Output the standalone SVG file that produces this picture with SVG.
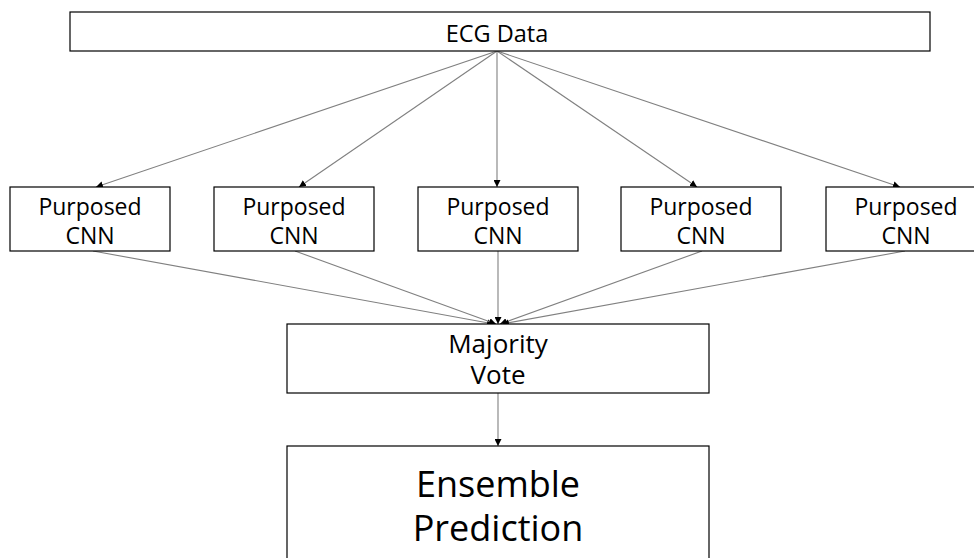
<svg xmlns="http://www.w3.org/2000/svg" width="974" height="558" viewBox="0 0 974 558">
<style>
.box{fill:#fff;stroke:#000;stroke-width:1.2}
.t{font-family:"Open Sans","Noto Sans",sans-serif;fill:#000;text-anchor:middle}
.c{stroke:#808080;stroke-width:1.1;fill:none;marker-end:url(#ah)}
</style>
<defs>
<marker id="ah" viewBox="0 0 10 10" refX="10" refY="5" markerWidth="7" markerHeight="7" markerUnits="userSpaceOnUse" orient="auto">
<path d="M0,0 L10,5 L0,10 z" fill="#000"/>
</marker>
</defs>
<rect width="974" height="558" fill="#fff"/>
<g id="connectors">
<line class="c" x1="497" y1="51" x2="96" y2="187"/>
<line class="c" x1="497" y1="51" x2="299" y2="187"/>
<line class="c" x1="497" y1="51" x2="497" y2="187"/>
<line class="c" x1="497" y1="51" x2="697" y2="187"/>
<line class="c" x1="497" y1="51" x2="900" y2="187"/>
<line class="c" x1="93" y1="251" x2="494" y2="324"/>
<line class="c" x1="295" y1="251" x2="496" y2="324"/>
<line class="c" x1="498" y1="251" x2="498" y2="324"/>
<line class="c" x1="702" y1="251" x2="500" y2="324"/>
<line class="c" x1="905" y1="251" x2="502" y2="324"/>
<line class="c" x1="498" y1="393" x2="498" y2="446"/>
</g>
<g id="ecg">
<rect class="box" x="70" y="12" width="860" height="39"/>
<text class="t" x="497" y="42" font-size="23.5">ECG Data</text>
</g>
<g id="cnn1">
<rect class="box" x="10" y="187" width="160" height="64"/>
<text class="t" x="90" y="215" font-size="23">Purposed</text>
<text class="t" x="90" y="244" font-size="23">CNN</text>
</g>
<g id="cnn2">
<rect class="box" x="214" y="187" width="160" height="64"/>
<text class="t" x="294" y="215" font-size="23">Purposed</text>
<text class="t" x="294" y="244" font-size="23">CNN</text>
</g>
<g id="cnn3">
<rect class="box" x="418" y="187" width="160" height="64"/>
<text class="t" x="498" y="215" font-size="23">Purposed</text>
<text class="t" x="498" y="244" font-size="23">CNN</text>
</g>
<g id="cnn4">
<rect class="box" x="621" y="187" width="160" height="64"/>
<text class="t" x="701" y="215" font-size="23">Purposed</text>
<text class="t" x="701" y="244" font-size="23">CNN</text>
</g>
<g id="cnn5">
<rect class="box" x="826" y="187" width="160" height="64"/>
<text class="t" x="906" y="215" font-size="23">Purposed</text>
<text class="t" x="906" y="244" font-size="23">CNN</text>
</g>
<g id="vote">
<rect class="box" x="287" y="324" width="422" height="69"/>
<text class="t" x="498" y="353" font-size="26">Majority</text>
<text class="t" x="498" y="384" font-size="26">Vote</text>
</g>
<g id="ensemble">
<rect class="box" x="287" y="446" width="422" height="130"/>
<text class="t" x="498" y="497" font-size="36">Ensemble</text>
<text class="t" x="498" y="541" font-size="36">Prediction</text>
</g>
</svg>
